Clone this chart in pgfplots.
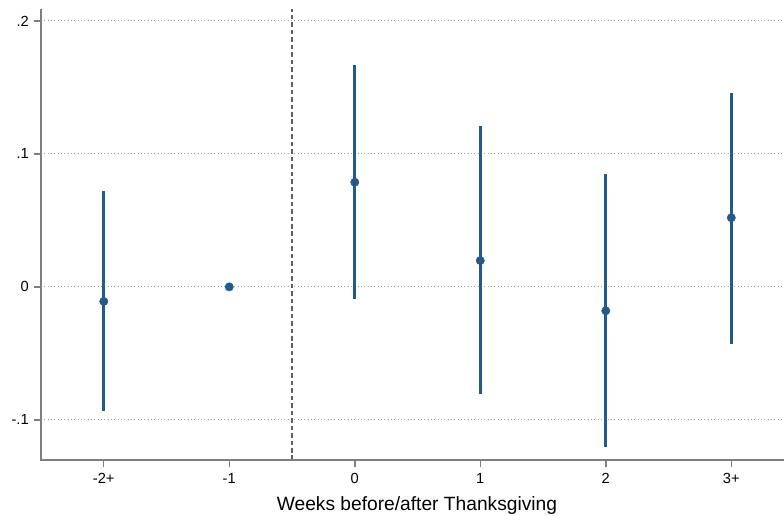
\documentclass[border=0pt]{standalone}
\usepackage{pgfplots}
\pgfplotsset{compat=1.18}
\usepackage{fontspec}
\setmainfont{Liberation Sans}
\definecolor{stblue}{HTML}{235A8C}
\definecolor{axgray}{HTML}{7F7F7F}
\definecolor{gridgray}{HTML}{A0A0A0}
\definecolor{dashgray}{HTML}{606060}
\tikzset{gridln/.style={gridgray, line width=0.75pt, dash pattern=on 0.75pt off 1.75pt},
  tk/.style={axgray, line width=1.1pt}}
\begin{document}
\begin{tikzpicture}
\begin{axis}[
  at={(0,0)}, anchor=south west,
  scale only axis, width=557.25pt, height=338.25pt,
  xmin=-0.5, xmax=5.42, ymin=-0.1302, ymax=0.209,
  axis line style={draw=none},
  xtick pos=bottom, ytick pos=left,
  xtick={0,1,2,3,4,5}, xticklabels={-2+,-1,0,1,2,3+},
  ytick={-0.1,0,0.1,0.2}, yticklabels={-.1,0,.1,.2},
  tick align=outside, major tick length=5.5pt,
  every tick/.style={draw=axgray, line width=1.1pt, solid},
  ticklabel style={font=\fontsize{11}{13}\selectfont},
  yticklabel style={anchor=east, inner sep=0pt, xshift=-3.5pt},
  xticklabel style={anchor=north, inner sep=0pt, yshift=-4.5pt},
  xlabel={Weeks before/after Thanksgiving},
  xlabel style={font=\fontsize{14.4}{16}\selectfont, at={(axis description cs:0.506,0)}, anchor=center, yshift=-34pt},
  clip=false,
]
\draw[gridln] (axis cs:-0.5,-0.1) -- (axis cs:5.42,-0.1);
\draw[gridln] (axis cs:-0.5,0) -- (axis cs:5.42,0);
\draw[gridln] (axis cs:-0.5,0.1) -- (axis cs:5.42,0.1);
\draw[gridln] (axis cs:-0.5,0.2) -- (axis cs:5.42,0.2);
\draw[tk] (axis cs:-0.5,-0.1) -- ++(-5.5pt,0pt);
\draw[tk] (axis cs:-0.5,0) -- ++(-5.5pt,0pt);
\draw[tk] (axis cs:-0.5,0.1) -- ++(-5.5pt,0pt);
\draw[tk] (axis cs:-0.5,0.2) -- ++(-5.5pt,0pt);
\draw[tk] (axis cs:0,-0.1302) -- ++(0pt,-5.5pt);
\draw[tk] (axis cs:1,-0.1302) -- ++(0pt,-5.5pt);
\draw[tk] (axis cs:2,-0.1302) -- ++(0pt,-5.5pt);
\draw[tk] (axis cs:3,-0.1302) -- ++(0pt,-5.5pt);
\draw[tk] (axis cs:4,-0.1302) -- ++(0pt,-5.5pt);
\draw[tk] (axis cs:5,-0.1302) -- ++(0pt,-5.5pt);
\draw[dashgray, line width=1.1pt, dash pattern=on 3.4pt off 2.2pt] (axis cs:1.5,-0.1302) -- (axis cs:1.5,0.209);
\draw[axgray, line width=1.5pt] (rel axis cs:0,1) -- (rel axis cs:0,0) -- (rel axis cs:1,0);
\addplot[stblue, only marks, mark=*, mark size=3.1pt, mark options={fill=stblue, draw=stblue},
  error bars/.cd, y dir=both, y explicit, error mark=none,
  error bar style={line width=2pt, stblue}]
  table[x=x, y=y, y error plus=ep, y error minus=em] {
x y ep em
0 -0.0109 0.0828 0.0824
1 0 0 0
2 0.0787 0.0881 0.0879
3 0.0198 0.1013 0.1007
4 -0.0180 0.1029 0.1023
5 0.0520 0.0941 0.0949
};
\end{axis}
\pgfresetboundingbox
\path[use as bounding box] (-30.75pt,-42pt) rectangle (557.25pt,345pt);
\end{tikzpicture}
\end{document}
